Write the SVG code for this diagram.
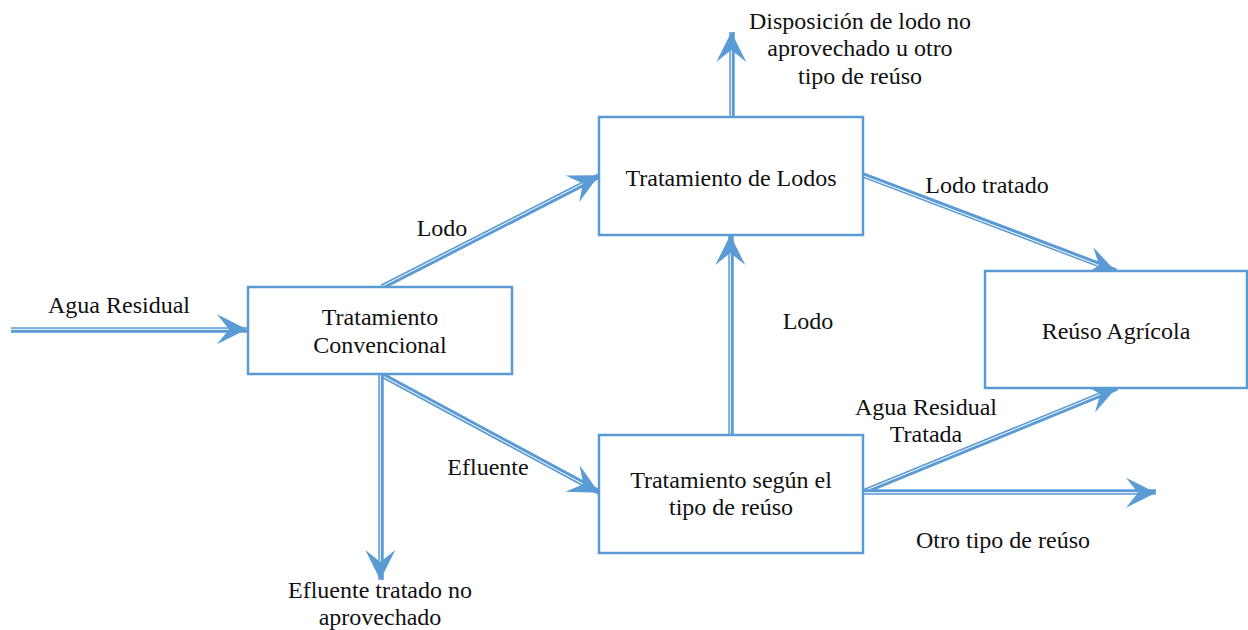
<svg xmlns="http://www.w3.org/2000/svg" width="1248" height="630" viewBox="0 0 1248 630">
<style>
.box{fill:#ffffff;stroke:#5B9BD5;stroke-width:2.5}
text{font-family:'Liberation Serif','Times New Roman',serif;font-size:24px;fill:#111111;text-anchor:middle}
.o{fill:none;stroke:#5B9BD5;stroke-width:5.5}
.i{fill:none;stroke:#ffffff;stroke-width:1;marker-end:url(#ah)}
</style>
<defs>
<marker id="ah" markerUnits="userSpaceOnUse" viewBox="-30 -15 30 30" refX="0" refY="0" markerWidth="30" markerHeight="30" orient="auto" overflow="visible">
<path d="M0,0 L-30,-15 L-18,0 L-30,15 Z" fill="#5B9BD5"/>
</marker>
</defs>
<rect width="1248" height="630" fill="#ffffff"/>
<g id="connectors">
<path class="o" d="M11,330 L247,330"/><path class="i" d="M11,329.3 L247,329.3"/>
<path class="o" d="M382,287 L599,176"/><path class="i" d="M382,286.3 L599,175.3"/>
<path class="o" d="M382,375 L599,492"/><path class="i" d="M382,375.7 L599,492.7"/>
<path class="o" d="M381,375 L381,580"/><path class="i" d="M380.3,375 L380.3,580"/>
<path class="o" d="M731,434 L731,235"/><path class="i" d="M730.3,434 L730.3,235"/>
<path class="o" d="M732,117 L732,32"/><path class="i" d="M731.3,117 L731.3,32"/>
<path class="o" d="M863,175 L1116,271"/><path class="i" d="M863,175.8 L1116,271.8"/>
<path class="o" d="M863,492 L1117,388"/><path class="i" d="M863,491.3 L1117,387.3"/>
<path class="o" d="M863,492 L1156,492"/><path class="i" d="M863,492.7 L1156,492.7"/>
</g>
<g id="tratamiento-convencional">
<rect class="box" x="248" y="287" width="264" height="87"/>
<text x="380" y="325">Tratamiento</text>
<text x="380" y="353">Convencional</text>
</g>
<g id="tratamiento-lodos">
<rect class="box" x="599" y="117" width="264" height="118"/>
<text x="731" y="186">Tratamiento de Lodos</text>
</g>
<g id="tratamiento-reuso">
<rect class="box" x="599" y="435" width="264" height="118"/>
<text x="731" y="488">Tratamiento según el</text>
<text x="731" y="515">tipo de reúso</text>
</g>
<g id="reuso-agricola">
<rect class="box" x="985" y="271" width="262" height="117"/>
<text x="1116" y="339">Reúso Agrícola</text>
</g>
<g id="labels">
<text x="119" y="313">Agua Residual</text>
<text x="442" y="236">Lodo</text>
<text x="808" y="329">Lodo</text>
<text x="987" y="193">Lodo tratado</text>
<text x="488" y="475">Efluente</text>
<text x="926" y="415">Agua Residual</text>
<text x="926" y="442">Tratada</text>
<text x="1003" y="548">Otro tipo de reúso</text>
<text x="860" y="29">Disposición de lodo no</text>
<text x="860" y="56">aprovechado u otro</text>
<text x="860" y="84">tipo de reúso</text>
<text x="380" y="598">Efluente tratado no</text>
<text x="380" y="625">aprovechado</text>
</g>
</svg>
